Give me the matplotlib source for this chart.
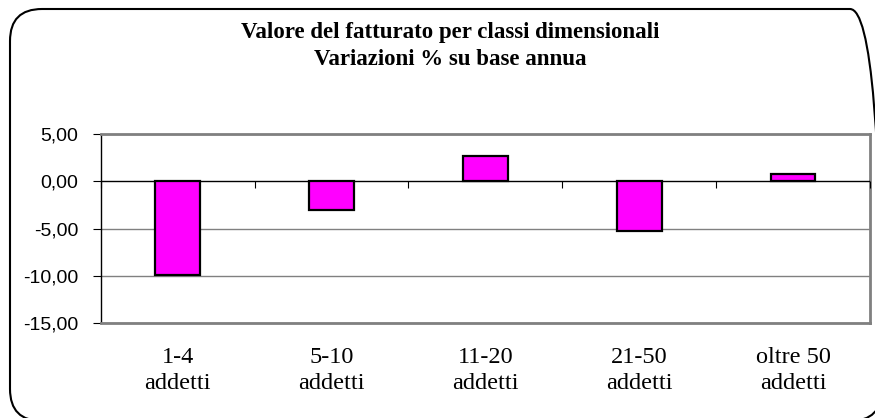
import matplotlib
matplotlib.use("Agg")
import matplotlib.pyplot as plt
from matplotlib.patches import FancyBboxPatch
from matplotlib.transforms import IdentityTransform
import numpy as np

categories = ["1-4\naddetti", "5-10\naddetti", "11-20\naddetti", "21-50\naddetti", "oltre 50\naddetti"]
values = [-9.9, -3.0, 2.7, -5.25, 0.75]
yticks = [5, 0, -5, -10, -15]
ytick_labels = ["5,00", "0,00", "-5,00", "-10,00", "-15,00"]
title = "Valore del fatturato per classi dimensionali\nVariazioni % su base annua"

W, H = 875, 418
fig = plt.figure(figsize=(W / 100, H / 100), dpi=100)

# rounded border (pixel coordinates, origin bottom-left)
bx0, bx1, btop, bbot = 10, 882, 9, 421
border = FancyBboxPatch((bx0, H - bbot), bx1 - bx0, bbot - btop,
                        boxstyle="round,pad=0,rounding_size=32",
                        transform=IdentityTransform(), facecolor="none",
                        edgecolor="black", linewidth=1.5, clip_on=False, zorder=10)
fig.patches.append(border)

left, right, top, bottom = 100.7, 870, 134, 323
ax = fig.add_axes([left / W, 1 - bottom / H, (right - left) / W, (bottom - top) / H])
ax.set_facecolor("white")

x = np.arange(len(values))
ax.set_xlim(-0.5, len(values) - 0.5)
ax.set_ylim(-15, 5)

for yv in yticks:
    if yv != 0:
        ax.axhline(yv, color="#808080", linewidth=1.0, zorder=1)
ax.axhline(0, color="black", linewidth=1.0, zorder=3)

ax.bar(x, values, width=0.29, color="#FF00FF", edgecolor="black", linewidth=1.6, zorder=4)

# category boundary ticks on the zero line
bounds = np.arange(len(values) + 1) - 0.5
ax.vlines(bounds, -0.72, 0, color="black", linewidth=0.8, zorder=3, clip_on=False)

for s in ["top", "right", "bottom"]:
    ax.spines[s].set_color("#808080")
    ax.spines[s].set_linewidth(2.0)
ax.spines["left"].set_color("black")
ax.spines["left"].set_linewidth(1.0)

ax.set_yticks(yticks)
ax.set_yticklabels(ytick_labels, fontfamily="Liberation Sans", fontsize=14)
ax.tick_params(axis="y", direction="out", length=6, width=0.8, pad=10)
ax.set_xticks(x)
ax.set_xticklabels(categories, fontfamily="Liberation Serif", fontsize=17.5, linespacing=1.32)
ax.tick_params(axis="x", length=0, pad=17)

fig.text(450 / W, 1 - 46 / H, title, ha="center", va="center",
         fontfamily="Liberation Serif", fontweight="bold", fontsize=16.5, linespacing=1.35)

fig.savefig("out.png", dpi=100, facecolor="white")
